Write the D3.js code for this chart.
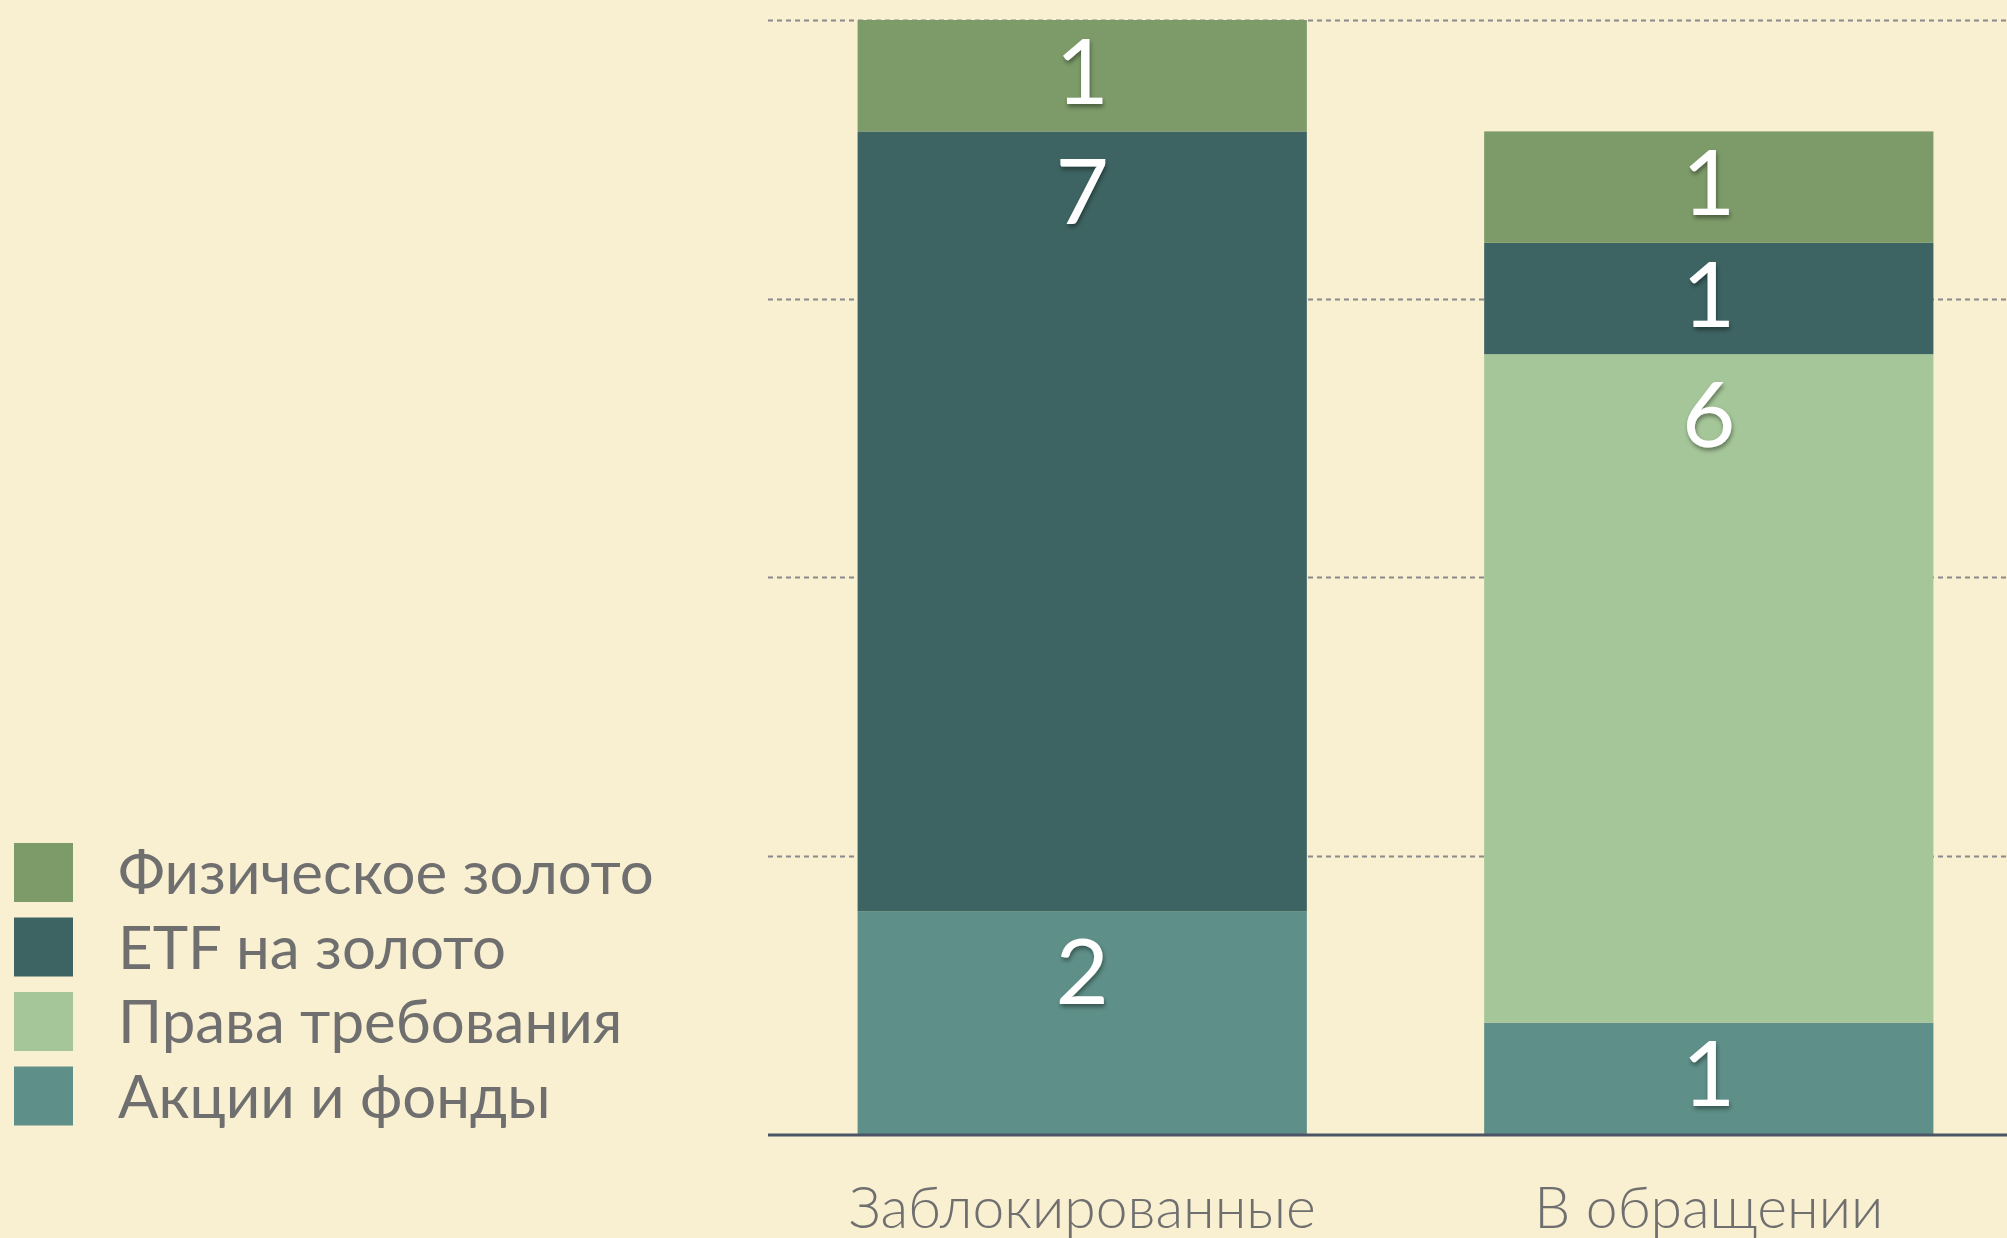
<!DOCTYPE html>
<html>
<head>
<meta charset="utf-8">
<script src="https://cdn.jsdelivr.net/npm/d3@7"></script>
<style>
  html, body { margin: 0; padding: 0; background: #f9efd1; }
  svg { display: block; }
</style>
</head>
<body>
<div id="chart-area"></div>
<script>
// bar chart: gold holdings, locked vs circulating
const categories = ["Заблокированные", "В обращении"];
const seriesNames = ["Акции и фонды", "Права требования", "ETF на золото", "Физическое золото"];
const akcii = [2, 1];
const prava = [0, 6];
const etf = [7, 1];
const fizicheskoe = [1, 1];
const gridTicks = [2.5, 5, 7.5, 10];
const legendOrder = ["Физическое золото", "ETF на золото", "Права требования", "Акции и фонды"];

const W = 2007, H = 1238;
const colors = {
  "Акции и фонды": "#5e8f88",
  "Права требования": "#a5c699",
  "ETF на золото": "#3d6462",
  "Физическое золото": "#7c9b68"
};

const rows = categories.map((c, i) => ({
  cat: c,
  "Акции и фонды": akcii[i],
  "Права требования": prava[i],
  "ETF на золото": etf[i],
  "Физическое золото": fizicheskoe[i]
}));
const stacked = d3.stack().keys(seriesNames)(rows);

const x = d3.scaleBand()
  .domain(categories)
  .range([768, 2023])
  .paddingInner(0.283)
  .paddingOuter(0.143);

const y = d3.scaleLinear()
  .domain([0, 10])
  .range([1134, 20]);

const svg = d3.select("#chart-area").append("svg")
  .attr("width", W)
  .attr("height", H);

const defs = svg.append("defs");
defs.append("filter").attr("id", "shadow")
  .attr("x", "-50%").attr("y", "-50%").attr("width", "200%").attr("height", "200%")
  .append("feDropShadow")
    .attr("dx", 1).attr("dy", 3).attr("stdDeviation", 2)
    .attr("flood-color", "#000").attr("flood-opacity", 0.4);

// grid
svg.append("g").selectAll("line").data(gridTicks).enter().append("line")
  .attr("x1", 768).attr("x2", W)
  .attr("y1", d => Math.round(y(d)) + 0.5)
  .attr("y2", d => Math.round(y(d)) + 0.5)
  .attr("stroke", "#8a8a8a")
  .attr("stroke-width", 2)
  .attr("stroke-dasharray", "5,4");

// bars
const layers = svg.append("g").selectAll("g").data(stacked).enter().append("g")
  .attr("fill", d => colors[d.key]);

layers.selectAll("rect").data(d => d.filter(s => s[1] - s[0] > 0)).enter().append("rect")
  .attr("x", d => x(d.data.cat))
  .attr("y", d => y(d[1]))
  .attr("width", x.bandwidth())
  .attr("height", d => y(d[0]) - y(d[1]));

// value labels near top of each segment
layers.selectAll("text").data(d => d.filter(s => s[1] - s[0] > 0)).enter().append("text")
  .attr("x", d => x(d.data.cat) + x.bandwidth() / 2)
  .attr("y", d => {
    const h = y(d[0]) - y(d[1]);
    return y(d[1]) + Math.min(h / 2 - 5, 60) + 33;
  })
  .attr("text-anchor", "middle")
  .attr("fill", "#fff")
  .attr("filter", "url(#shadow)")
  .style("font-family", "Lato, 'Open Sans', sans-serif")
  .style("font-size", "92px")
  .text(d => d[1] - d[0]);

// x axis
const bottomAxis = d3.axisBottom(x).tickSize(0).tickPadding(54);
const ax = svg.append("g")
  .attr("transform", `translate(0, ${y(0)})`)
  .call(bottomAxis);
ax.select(".domain").remove();
ax.selectAll("text")
  .attr("fill", "#6f6f6f")
  .style("font-family", "Lato, 'Open Sans', sans-serif")
  .style("font-weight", 300)
  .style("font-size", "57px");
svg.append("line")
  .attr("x1", 768).attr("x2", W)
  .attr("y1", y(0) + 1).attr("y2", y(0) + 1)
  .attr("stroke", "#4b5566")
  .attr("stroke-width", 3);

// legend
const legend = svg.append("g").selectAll("g").data(legendOrder).enter().append("g")
  .attr("transform", (d, i) => `translate(14, ${843 + i * 74.5})`);
legend.append("rect")
  .attr("width", 59).attr("height", 59)
  .attr("fill", d => colors[d]);
legend.append("text")
  .attr("x", 104).attr("y", 30)
  .attr("dy", "0.35em")
  .attr("fill", "#6f6f6f")
  .style("font-family", "Lato, 'Open Sans', sans-serif")
  .style("font-size", "60px")
  .text(d => d);
</script>
</body>
</html>
